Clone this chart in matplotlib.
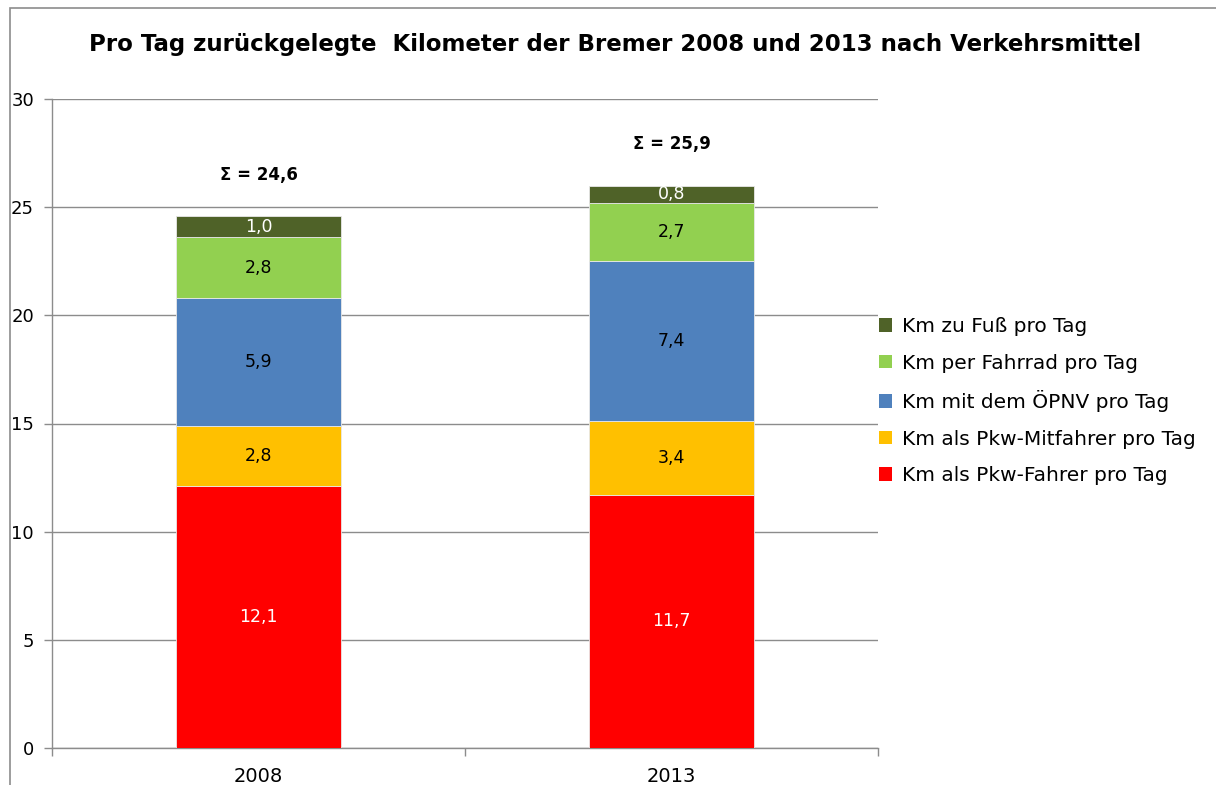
import matplotlib
matplotlib.use("Agg")
import matplotlib.pyplot as plt
from matplotlib.patches import Rectangle, Patch

years = ["2008", "2013"]
series_names = ["Km als Pkw-Fahrer pro Tag", "Km als Pkw-Mitfahrer pro Tag",
                "Km mit dem ÖPNV pro Tag", "Km per Fahrrad pro Tag", "Km zu Fuß pro Tag"]
pkw_fahrer = [12.1, 11.7]
pkw_mitfahrer = [2.8, 3.4]
oepnv = [5.9, 7.4]
fahrrad = [2.8, 2.7]
zu_fuss = [1.0, 0.8]
sum_labels = ["Σ = 24,6", "Σ = 25,9"]
series = [pkw_fahrer, pkw_mitfahrer, oepnv, fahrrad, zu_fuss]
colors = ["#FF0000", "#FFC000", "#4F81BD", "#92D050", "#4F6228"]
label_colors = ["white", "black", "black", "black", "white"]

plt.rcParams['font.family'] = ['DejaVu Sans']
fig = plt.figure(figsize=(12.16, 7.85), dpi=100)
ax = fig.add_axes([52/1216, 1-748/785, (878-52)/1216, (748-99)/785])

# chart border
fig.patches.append(Rectangle((10/1216, -0.1), 1.2, 1 - 8/785 + 0.1, transform=fig.transFigure,
                             fill=False, edgecolor="#8C8C8C", linewidth=1.2))

x = list(range(len(years)))
bottoms = [0.0] * len(years)
for vals, col, lc in zip(series, colors, label_colors):
    ax.bar(x, vals, width=0.4, bottom=bottoms, color=col, edgecolor="#E8E8E8", linewidth=0.6, zorder=3)
    for i, v in enumerate(vals):
        ax.text(x[i], bottoms[i] + v / 2, f"{v:.1f}".replace(".", ","), ha="center", va="center",
                color=lc, fontsize=12.5, zorder=4)
    bottoms = [b + v for b, v in zip(bottoms, vals)]

for i, lab in enumerate(sum_labels):
    ax.text(x[i], bottoms[i] + 1.9, lab, ha="center", va="center", fontsize=12, fontweight="bold")

ax.set_xlim(-0.5, 1.5)
ax.set_ylim(0, 30)
ax.set_yticks(range(0, 31, 5))
ax.grid(axis="y", color="#8C8C8C", linewidth=1.0, zorder=0)
ax.set_axisbelow(True)
for s in ["top", "right"]:
    ax.spines[s].set_visible(False)
for s in ["left", "bottom"]:
    ax.spines[s].set_color("#8C8C8C")
    ax.spines[s].set_linewidth(1.0)
ax.tick_params(axis="y", colors="#8C8C8C", labelcolor="black", labelsize=13, length=6, width=1, pad=7)
ax.set_xticks([-0.5, 0.5, 1.5])
ax.set_xticklabels([])
ax.tick_params(axis="x", colors="#8C8C8C", length=6, width=1)
ax.set_xticks(x, minor=True)
ax.set_xticklabels(years, minor=True, fontsize=14)
ax.tick_params(axis="x", which="minor", length=0, pad=14, labelcolor="black")

fig.text(615/1216, 1 - 45/785, "Pro Tag zurückgelegte  Kilometer der Bremer 2008 und 2013 nach Verkehrsmittel",
         ha="center", va="center", fontsize=16.5, fontweight="bold")

handles = [Patch(facecolor=c, edgecolor="none") for c in colors][::-1]
leg = fig.legend(handles, series_names[::-1], loc="upper left", bbox_to_anchor=(871/1216, 1 - 309/785),
                 frameon=False, fontsize=14.5, handlelength=0.65, handleheight=0.65, handletextpad=0.5,
                 labelspacing=0.87, borderaxespad=0)

fig.savefig("out.png", dpi=100)
